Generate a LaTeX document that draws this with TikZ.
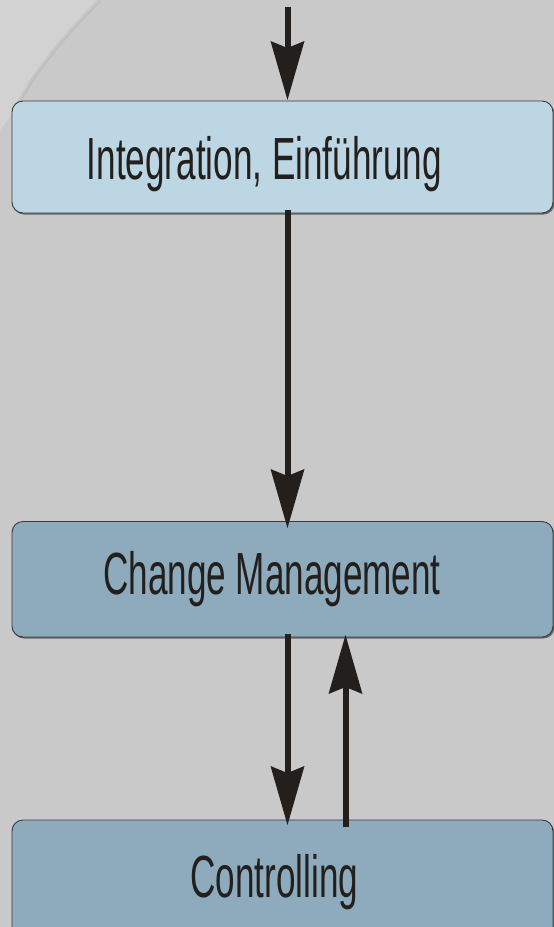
\documentclass[tikz,border=0pt]{standalone}
\usepackage{fontspec}
\setmainfont{Liberation Sans}
\usetikzlibrary{arrows.meta}
\definecolor{bgc}{HTML}{C9C9C9}
\definecolor{bglight}{HTML}{D2D2D2}
\definecolor{boxa}{HTML}{BDD6E4}
\definecolor{boxb}{HTML}{8DABBC}
\definecolor{ink}{HTML}{231F1C}
\definecolor{rim}{HTML}{3A3A3A}
\tikzset{
  flowbox/.style={rectangle, rounded corners=11pt, draw=rim, line width=0.9pt,
    minimum width=541pt, inner sep=0pt, outer sep=0pt},
  lbl/.style={anchor=base, inner sep=0pt, text=ink,
    font=\fontsize{59.5}{60}\selectfont},
  conn/.style={draw=ink, line width=6pt,
    -{Stealth[length=59pt, width=34pt, inset=7pt, line width=0pt]}},
}
\newcommand{\narrowtxt}[1]{\scalebox{0.59}[1]{#1}}
\begin{document}
\begin{tikzpicture}[x=1pt, y=-1pt]
\useasboundingbox (0,0) rectangle (554,927);
\clip (0,0) rectangle (554,927);
\fill[bgc] (0,0) rectangle (554,927);
\fill[bglight] (0,0) -- (100,0) .. controls (65,35) and (35,70) .. (15,110) -- (0,130) -- cycle;
\draw[black, line width=4pt, opacity=0.05] (100,0) .. controls (65,35) and (35,70) .. (15,110);

% shadows
\fill[black!60, rounded corners=11pt] (13,103) rectangle (554.5,214.5);
\fill[black!60, rounded corners=11pt] (13,523.5) rectangle (554.5,638.5);
\fill[black!60, rounded corners=11pt] (13,822) rectangle (554.5,940);

\node[flowbox, fill=boxa, minimum height=112pt] (b1) at (282.5,157) {};
\node[flowbox, fill=boxb, minimum height=115.5pt] (b2) at (282.5,579.25) {};
\node[flowbox, fill=boxb, minimum height=118pt] (b3) at (282.5,879) {};

\node[lbl] (t1) at (264.5,179) {\narrowtxt{Integration, Einführung}};
\node[lbl] (t2) at (272,594) {\narrowtxt{Change Management}};
\node[lbl] (t3) at (274.5,897) {\narrowtxt{Controlling}};

\coordinate (cL) at (287.5,0);
\coordinate (cR) at (345.5,0);
\coordinate (start) at (287.5,7);

\draw[conn, shorten >=1pt] (start) -- (cL |- b1.north);
\draw[conn, shorten <=-3pt, shorten >=-6.5pt] (cL |- b1.south) -- (cL |- b2.north);
\draw[conn, shorten <=-3pt, shorten >=-5pt] (cL |- b2.south) -- (cL |- b3.north);
\draw[conn, shorten <=-7pt, shorten >=-2pt] (cR |- b3.north) -- (cR |- b2.south);
\end{tikzpicture}
\end{document}
